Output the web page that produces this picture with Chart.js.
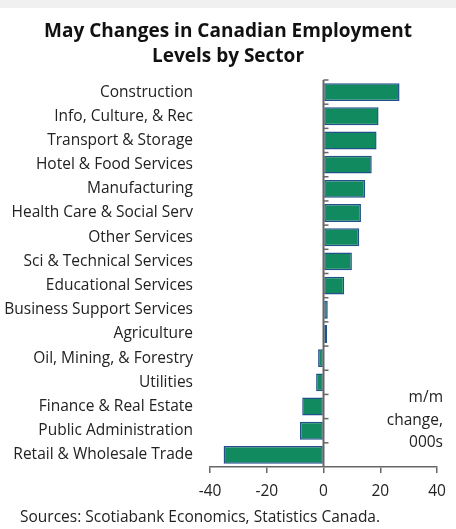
<!DOCTYPE html>
<html>
<head>
<meta charset="utf-8">
<script src="https://cdn.jsdelivr.net/npm/chart.js@4/dist/chart.umd.min.js"></script>
<style>
  html, body { margin: 0; padding: 0; background: #fff; }
  body { width: 456px; height: 529px; position: relative; overflow: hidden; font-family: "Open Sans", sans-serif; color: #111; }
  .strip { position: absolute; left: 0; top: 0; width: 456px; height: 8px; background: #eff0ef; }
  .title { position: absolute; left: 0; top: 18px; width: 456px; text-align: center; font-weight: bold; font-size: 19px; line-height: 25px; color: #111; }
  .source { position: absolute; left: 20px; top: 505px; font-size: 15.5px; color: #222; }
  #wrap { position: absolute; left: 0; top: 0; width: 456px; height: 529px; }
</style>
</head>
<body>
<div class="strip"></div>
<div id="wrap"><canvas id="chart"></canvas></div>
<div class="title">May Changes in Canadian Employment<br>Levels by Sector</div>
<div class="source">Sources: Scotiabank Economics, Statistics Canada.</div>
<script>
const sectors = [
    'Construction', 'Info, Culture, & Rec', 'Transport & Storage', 'Hotel & Food Services',
    'Manufacturing', 'Health Care & Social Serv', 'Other Services', 'Sci & Technical Services',
    'Educational Services', 'Business Support Services', 'Agriculture', 'Oil, Mining, & Forestry',
    'Utilities', 'Finance & Real Estate', 'Public Administration', 'Retail & Wholesale Trade'
];
const changes = [26.8, 19.4, 18.7, 17.0, 14.7, 13.2, 12.6, 10.0, 7.3, 1.5, 1.3, -1.9, -2.6, -7.5, -8.3, -35.2];
const xTicks = [-40, -20, 0, 20, 40];
const unitNote = ['m/m', 'change,', '000s'];

const axisGray = '#666666';
const labelFont = { family: 'Open Sans', size: 15.5 };

// zero line with small ticks at category boundaries, plus the unit note
const zeroAxisPlugin = {
    id: 'zeroAxis',
    afterDatasetsDraw(chart) {
        const { ctx, scales: { x, y }, chartArea } = chart;
        const x0 = x.getPixelForValue(0);
        const step = (chartArea.bottom - chartArea.top) / sectors.length;
        ctx.save();
        ctx.strokeStyle = axisGray;
        ctx.lineWidth = 2;
        ctx.beginPath();
        ctx.moveTo(x0, chartArea.top);
        ctx.lineTo(x0, chartArea.bottom);
        ctx.stroke();
        ctx.lineWidth = 1.5;
        for (let i = 0; i < sectors.length; i++) {
            const yy = chartArea.top + i * step;
            ctx.beginPath();
            ctx.moveTo(x0, yy);
            ctx.lineTo(x0 + 5, yy);
            ctx.stroke();
        }
        ctx.fillStyle = '#222';
        ctx.font = '15.5px "Open Sans", sans-serif';
        ctx.textAlign = 'right';
        ctx.textBaseline = 'middle';
        unitNote.forEach((t, i) => ctx.fillText(t, 443, 398 + i * 22.5));
        ctx.restore();
    }
};

new Chart(document.getElementById('chart'), {
    type: 'bar',
    data: {
        labels: sectors,
        datasets: [{
            data: changes,
            backgroundColor: '#108a5e',
            borderColor: '#22508a',
            borderWidth: 1.5,
            borderSkipped: false,
            barPercentage: 0.74,
            categoryPercentage: 1
        }]
    },
    options: {
        indexAxis: 'y',
        responsive: true,
        maintainAspectRatio: false,
        animation: false,
        layout: { padding: { left: 0, right: 19, top: 80, bottom: 32 } },
        plugins: { legend: { display: false }, tooltip: { enabled: false } },
        scales: {
            x: {
                min: -40, max: 40,
                afterBuildTicks: s => { s.ticks = xTicks.map(v => ({ value: v })); },
                afterFit: s => { s.height = 30; },
                border: { display: true, color: axisGray, width: 1.5 },
                grid: { drawOnChartArea: false, drawTicks: true, tickLength: 6, color: axisGray, lineWidth: 1.5 },
                ticks: { color: '#222', padding: 9, font: labelFont }
            },
            y: {
                afterFit: s => { s.width = 210; },
                border: { display: false },
                grid: { display: false },
                ticks: { color: '#222', padding: 9, font: labelFont, autoSkip: false }
            }
        }
    },
    plugins: [zeroAxisPlugin]
});
</script>
</body>
</html>
